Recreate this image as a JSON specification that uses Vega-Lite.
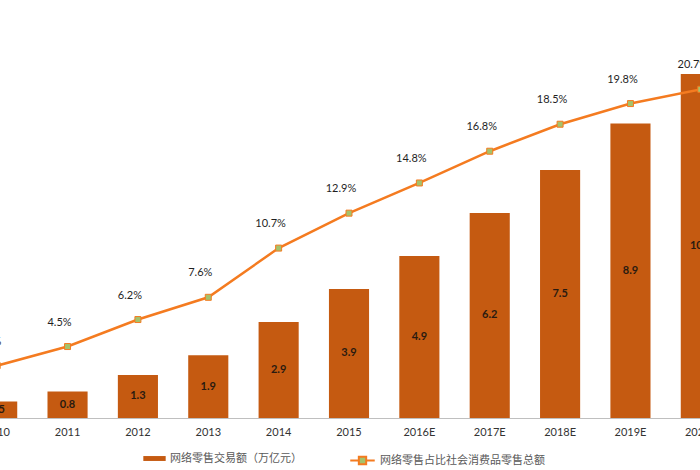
{
  "$schema": "https://vega.github.io/schema/vega-lite/v6.json",
  "width": 774,
  "height": 397,
  "autosize": {"type": "none"},
  "padding": {"left": -38, "top": 21, "right": 0, "bottom": 52},
  "background": "white",
  "config": {"view": {"stroke": null}, "font": "Lato"},
  "data": {
    "values": [
      {"year": "2010", "bar": 0.5, "pct": 0.033},
      {"year": "2011", "bar": 0.8, "pct": 0.045},
      {"year": "2012", "bar": 1.3, "pct": 0.062},
      {"year": "2013", "bar": 1.9, "pct": 0.076},
      {"year": "2014", "bar": 2.9, "pct": 0.107},
      {"year": "2015", "bar": 3.9, "pct": 0.129},
      {"year": "2016E", "bar": 4.9, "pct": 0.148},
      {"year": "2017E", "bar": 6.2, "pct": 0.168},
      {"year": "2018E", "bar": 7.5, "pct": 0.185},
      {"year": "2019E", "bar": 8.9, "pct": 0.198},
      {"year": "2020E", "bar": 10.4, "pct": 0.207}
    ]
  },
  "encoding": {
    "x": {
      "field": "year",
      "type": "nominal",
      "sort": null,
      "scale": {"paddingInner": 0.43, "paddingOuter": 0.215},
      "axis": {
        "title": null,
        "labelAngle": 0,
        "ticks": false,
        "domainColor": "#BFBFBF",
        "labelColor": "#333333",
        "labelFontSize": 11,
        "labelPadding": 8,
        "labelFont": "Lato"
      }
    }
  },
  "layer": [
    {
      "layer": [
        {
          "mark": {"type": "bar"},
          "encoding": {
            "y": {"field": "bar", "type": "quantitative", "scale": {"domain": [0, 12], "nice": false}, "axis": null},
            "fill": {
              "datum": "网络零售交易额（万亿元）",
              "scale": {"range": ["#C55A11"]},
              "legend": {
                "orient": "none",
                "legendX": 181,
                "legendY": 426,
                "title": null,
                "symbolType": "M-1,-0.22H1V0.22H-1Z",
                "symbolSize": 500,
                "symbolStrokeWidth": 0,
                "labelFont": "Noto Sans CJK SC",
                "labelFontSize": 11,
                "labelColor": "#595959",
                "labelLimit": 400
              }
            }
          }
        },
        {
          "transform": [{"calculate": "datum.bar / 2", "as": "mid"}],
          "mark": {"type": "text", "fontSize": 11, "fontWeight": "bold", "color": "#2a1a10", "baseline": "middle"},
          "encoding": {
            "y": {"field": "mid", "type": "quantitative", "scale": {"domain": [0, 12], "nice": false}, "axis": null},
            "text": {"field": "bar", "type": "quantitative", "format": ".1f"}
          }
        }
      ]
    },
    {
      "layer": [
        {
          "mark": {
            "type": "line",
            "strokeWidth": 2.5,
            "point": {"shape": "square", "size": 36, "filled": true, "fill": "#A5C26B", "stroke": "#F07A2A", "strokeWidth": 1}
          },
          "encoding": {
            "y": {"field": "pct", "type": "quantitative", "scale": {"domain": [0, 0.25], "nice": false}, "axis": null},
            "stroke": {
              "datum": "网络零售占比社会消费品零售总额",
              "scale": {"range": ["#F47B20"]},
              "legend": {
                "orient": "none",
                "legendX": 387,
                "legendY": 426,
                "title": null,
                "symbolType": "M-1,0H-0.3M0.3,0H1M-0.3,-0.3H0.3V0.3H-0.3Z",
                "symbolSize": 600,
                "symbolStrokeWidth": 2,
                "symbolFillColor": "#A5C26B",
                "labelFont": "Noto Sans CJK SC",
                "labelFontSize": 11,
                "labelColor": "#595959",
                "labelLimit": 400
              }
            }
          }
        },
        {
          "mark": {"type": "text", "fontSize": 11, "color": "#1f1f1f", "dy": -24, "dx": -8},
          "encoding": {
            "y": {"field": "pct", "type": "quantitative", "scale": {"domain": [0, 0.25], "nice": false}, "axis": null},
            "text": {"field": "pct", "type": "quantitative", "format": ".1%"}
          }
        }
      ]
    }
  ],
  "resolve": {"scale": {"y": "independent", "fill": "independent", "stroke": "independent"}}
}
